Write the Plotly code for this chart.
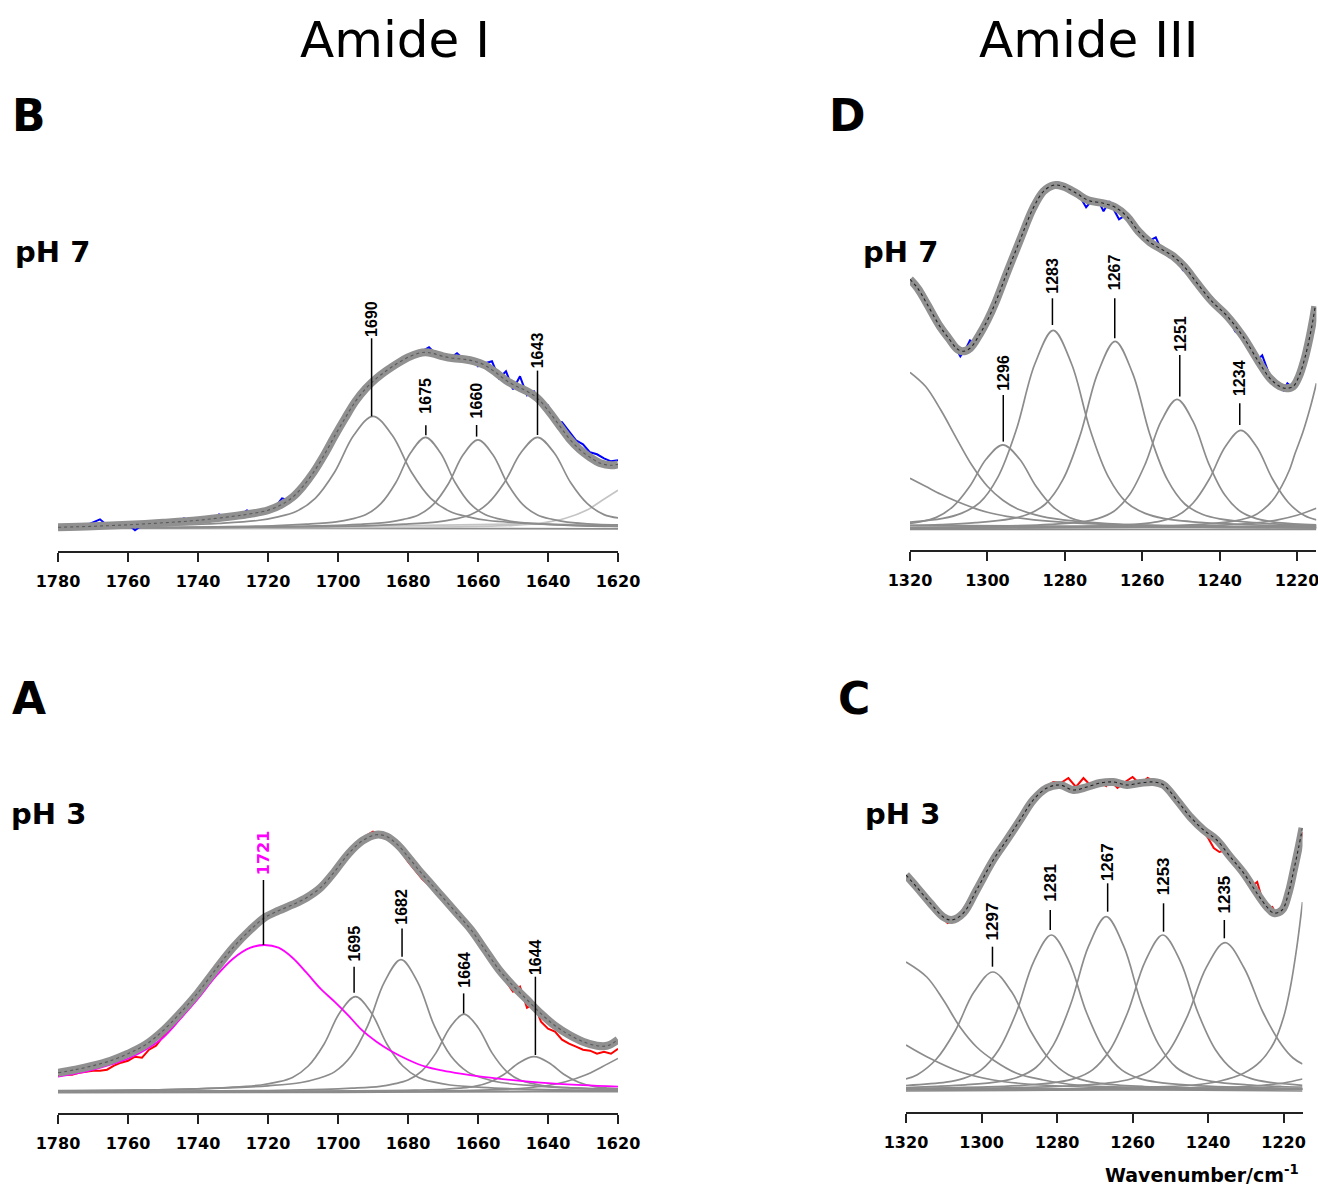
import plotly.graph_objects as go

FIG_W, FIG_H = 1318, 1189

# ============================ DATA ============================
amideI_ticks = [1780, 1760, 1740, 1720, 1700, 1680, 1660, 1640, 1620]
amideIII_ticks = [1320, 1300, 1280, 1260, 1240, 1220]

# ---------------- Panel B : Amide I, pH 7 ----------------
B_meas_x = [1780, 1778, 1776, 1774, 1772, 1770, 1768, 1766, 1764, 1762, 1760, 1758, 1756, 1754, 1752, 1750,
            1748, 1746, 1744, 1742, 1740, 1738, 1736, 1734, 1732, 1730, 1728, 1726, 1724, 1722, 1720, 1718,
            1716, 1714, 1712, 1710, 1708, 1706, 1704, 1702, 1700, 1698, 1696, 1694, 1692, 1690, 1688, 1686,
            1684, 1682, 1680, 1678, 1676, 1674, 1672, 1670, 1668, 1666, 1664, 1662, 1660, 1658, 1656, 1654,
            1652, 1650, 1648, 1646, 1644, 1642, 1640, 1638, 1636, 1634, 1632, 1630, 1628, 1626, 1624, 1622, 1620]
B_meas_y = [0.01, 0.00, 0.02, 0.01, 0.03, 0.06, 0.09, 0.03, 0.02, 0.03, 0.04, -0.02, 0.03, 0.04, 0.05, 0.05,
            0.06, 0.07, 0.10, 0.07, 0.10, 0.09, 0.09, 0.14, 0.11, 0.12, 0.13, 0.18, 0.15, 0.16, 0.18, 0.21,
            0.30, 0.28, 0.34, 0.42, 0.51, 0.62, 0.73, 0.86, 0.98, 1.10, 1.21, 1.31, 1.40, 1.47, 1.54, 1.60,
            1.64, 1.68, 1.72, 1.73, 1.77, 1.81, 1.74, 1.73, 1.70, 1.75, 1.69, 1.70, 1.62, 1.65, 1.67, 1.50,
            1.57, 1.39, 1.52, 1.33, 1.37, 1.24, 1.23, 1.07, 1.06, 0.97, 0.88, 0.84, 0.76, 0.74, 0.70, 0.67, 0.68]
B_fit_x = [1780, 1770, 1760, 1750, 1740, 1730, 1725, 1720, 1716, 1713, 1710, 1707, 1704, 1701, 1698, 1695,
           1692, 1689, 1686, 1683, 1680, 1677, 1675, 1673, 1670, 1667, 1664, 1661, 1658, 1655, 1652, 1649,
           1646, 1643, 1640, 1637, 1634, 1631, 1628, 1625, 1622, 1620]
B_fit_y = [0.01, 0.02, 0.035, 0.055, 0.08, 0.12, 0.145, 0.18, 0.24, 0.31, 0.42, 0.56, 0.73, 0.92, 1.10, 1.27,
           1.40, 1.50, 1.58, 1.65, 1.71, 1.75, 1.76, 1.75, 1.72, 1.70, 1.69, 1.67, 1.63, 1.56, 1.48, 1.42,
           1.37, 1.30, 1.18, 1.04, 0.90, 0.79, 0.71, 0.65, 0.63, 0.64]
B_b1690_x = [1780, 1767, 1745, 1734, 1723, 1717.5, 1712, 1706.5, 1701, 1695.5, 1690, 1684.5, 1679, 1673.5,
             1668, 1662.5, 1657, 1646, 1635, 1620]
B_b1690_y = [0.012, 0.018, 0.034, 0.05, 0.078, 0.112, 0.168, 0.30, 0.56, 0.93, 1.12, 0.93, 0.56, 0.30,
             0.168, 0.112, 0.078, 0.05, 0.034, 0.02]
B_b1675_x = [1780, 1760, 1734.5, 1717.5, 1709, 1700.5, 1696.25, 1692, 1687.75, 1683.5, 1679.25, 1675,
             1670.75, 1666.5, 1662.25, 1658, 1653.75, 1649.5, 1641, 1632.5, 1620]
B_b1675_y = [0.006, 0.007, 0.015, 0.027, 0.041, 0.064, 0.091, 0.137, 0.246, 0.455, 0.755, 0.91,
             0.755, 0.455, 0.246, 0.137, 0.091, 0.064, 0.041, 0.027, 0.018]
B_b1660_x = [1780, 1745, 1719.5, 1702.5, 1694, 1685.5, 1681.25, 1677, 1672.75, 1668.5, 1664.25, 1660,
             1655.75, 1651.5, 1647.25, 1643, 1638.75, 1634.5, 1626, 1620]
B_b1660_y = [0.005, 0.007, 0.014, 0.027, 0.040, 0.062, 0.089, 0.133, 0.239, 0.443, 0.735, 0.885,
             0.735, 0.443, 0.239, 0.133, 0.089, 0.062, 0.040, 0.034]
B_b1643_x = [1780, 1738, 1709.5, 1690.5, 1681, 1671.5, 1666.75, 1662, 1657.25, 1652.5, 1647.75, 1643,
             1638.25, 1633.5, 1628.75, 1624, 1620]
B_b1643_y = [0.004, 0.007, 0.015, 0.027, 0.041, 0.064, 0.091, 0.137, 0.246, 0.455, 0.755, 0.91,
             0.755, 0.455, 0.246, 0.137, 0.104]
B_bbase1_x = [1780, 1700, 1620]
B_bbase1_y = [0.0, 0.0, -0.005]
B_bbase2_x = [1780, 1740, 1700, 1670, 1650, 1635, 1620]
B_bbase2_y = [0.004, 0.008, 0.018, 0.032, 0.042, 0.04, 0.03]
B_bright_x = [1780, 1730, 1690, 1665, 1650, 1641, 1635, 1629, 1624.5, 1620]
B_bright_y = [0.002, 0.004, 0.008, 0.015, 0.03, 0.057, 0.10, 0.18, 0.28, 0.38]
B_peak_text = ["1690", "1675", "1660", "1643"]
B_peak_pos = [1690.4, 1674.9, 1660.4, 1643.0]

# ---------------- Panel A : Amide I, pH 3 ----------------
A_meas_x = [1780, 1778, 1776, 1774, 1772, 1770, 1768, 1766, 1764, 1762, 1760, 1758, 1756, 1754, 1752, 1750,
            1748, 1746, 1744, 1742, 1740, 1736, 1732, 1728, 1724, 1720, 1716, 1712, 1708, 1704, 1700, 1696,
            1692, 1690, 1688, 1684, 1680, 1676, 1672, 1668, 1664, 1660, 1658, 1656, 1654, 1652, 1650, 1648,
            1646, 1644, 1642, 1640, 1638, 1636, 1634, 1632, 1630, 1628, 1626, 1624, 1622, 1620]
A_meas_y = [0.16, 0.17, 0.17, 0.19, 0.20, 0.21, 0.21, 0.22, 0.26, 0.29, 0.31, 0.35, 0.34, 0.42, 0.46, 0.55,
            0.62, 0.70, 0.78, 0.87, 0.95, 1.15, 1.34, 1.53, 1.67, 1.78, 1.84, 1.89, 1.95, 2.09, 2.25, 2.44,
            2.56, 2.60, 2.57, 2.50, 2.30, 2.13, 2.00, 1.84, 1.70, 1.52, 1.41, 1.31, 1.20, 1.10, 1.00, 1.05,
            0.84, 0.88, 0.70, 0.63, 0.60, 0.52, 0.48, 0.45, 0.42, 0.41, 0.38, 0.40, 0.38, 0.43]
A_fit_x = [1780, 1775, 1770, 1765, 1760, 1755, 1750, 1745, 1740, 1735, 1730, 1725, 1721, 1717, 1713, 1709,
           1705, 1701, 1697, 1693, 1689, 1686, 1683, 1680, 1677, 1674, 1670, 1666, 1662, 1658, 1654, 1650,
           1646, 1642, 1638, 1634, 1630, 1626, 1623, 1620]
A_fit_y = [0.19, 0.22, 0.26, 0.31, 0.38, 0.47, 0.61, 0.79, 0.99, 1.22, 1.44, 1.62, 1.74, 1.81, 1.87, 1.94,
           2.04, 2.20, 2.38, 2.51, 2.57, 2.55, 2.47, 2.35, 2.22, 2.10, 1.94, 1.78, 1.62, 1.42, 1.22, 1.06,
           0.92, 0.78, 0.66, 0.57, 0.50, 0.46, 0.46, 0.52]
A_b1721_x = [1780, 1772, 1765, 1760, 1755, 1750, 1745, 1740, 1735, 1730, 1725, 1721, 1717, 1713, 1709, 1705,
             1701, 1697, 1693, 1689, 1685, 1680, 1675, 1670, 1665, 1658, 1650, 1640, 1630, 1620]
A_b1721_y = [0.15, 0.20, 0.27, 0.33, 0.42, 0.54, 0.73, 0.93, 1.15, 1.33, 1.44, 1.467, 1.44, 1.34, 1.19, 1.03,
             0.90, 0.76, 0.61, 0.50, 0.41, 0.32, 0.25, 0.21, 0.18, 0.145, 0.115, 0.085, 0.065, 0.05]
A_b1695_x = [1780, 1758, 1740, 1731, 1722, 1717.5, 1713, 1708.5, 1704, 1699.5, 1695, 1690.5, 1686, 1681.5,
             1677, 1672.5, 1668, 1659, 1650, 1632, 1620]
A_b1695_y = [0.009, 0.015, 0.029, 0.043, 0.067, 0.095, 0.143, 0.257, 0.475, 0.79, 0.95, 0.79, 0.475, 0.257,
             0.143, 0.095, 0.067, 0.043, 0.029, 0.015, 0.012]
A_b1682_x = [1780, 1748.5, 1729.5, 1720, 1710.5, 1705.75, 1701, 1696.25, 1691.5, 1686.75, 1682, 1677.25,
             1672.5, 1667.75, 1663, 1658.25, 1653.5, 1644, 1634.5, 1620]
A_b1682_y = [0.010, 0.021, 0.040, 0.059, 0.092, 0.132, 0.198, 0.356, 0.66, 1.096, 1.32, 1.096,
             0.66, 0.356, 0.198, 0.132, 0.092, 0.059, 0.040, 0.024]
A_b1664_x = [1780, 1744, 1720, 1704, 1696, 1688, 1684, 1680, 1676, 1672, 1668, 1664, 1660, 1656, 1652, 1648,
             1644, 1640, 1632, 1624, 1620]
A_b1664_y = [0.005, 0.006, 0.012, 0.023, 0.035, 0.054, 0.078, 0.116, 0.209, 0.388, 0.643, 0.775, 0.643,
             0.388, 0.209, 0.116, 0.078, 0.054, 0.035, 0.023, 0.02]
A_b1644_x = [1780, 1729, 1703.5, 1686.5, 1678, 1669.5, 1665.25, 1661, 1656.75, 1652.5, 1648.25, 1644,
             1639.75, 1635.5, 1631.25, 1627, 1622.75, 1620]
A_b1644_y = [0.002, 0.003, 0.006, 0.0105, 0.016, 0.0245, 0.035, 0.0525, 0.0945, 0.175, 0.29, 0.35,
             0.29, 0.175, 0.0945, 0.0525, 0.035, 0.028]
A_bright_x = [1780, 1720, 1677, 1653, 1641, 1635, 1629.3, 1624.5, 1620]
A_bright_y = [0.001, 0.002, 0.005, 0.023, 0.057, 0.10, 0.167, 0.25, 0.333]
A_bbase1_x = [1780, 1700, 1650, 1620]
A_bbase1_y = [-0.01, -0.006, 0.004, 0.015]
A_bbase2_x = [1780, 1620]
A_bbase2_y = [0.006, 0.0]
A_peak_text = ["1721", "1695", "1682", "1664", "1644"]
A_peak_pos = [1721.3, 1695.4, 1681.7, 1664.1, 1643.6]

# ---------------- Panel D : Amide III, pH 7 ----------------
D_meas_x = [1320, 1318, 1316, 1314, 1312, 1310, 1308, 1307, 1305.5, 1304.5, 1303, 1301, 1298, 1295, 1292,
            1289, 1286, 1284, 1282, 1280, 1278, 1276, 1274.5, 1273, 1271, 1270, 1268.5, 1267, 1266, 1264,
            1262, 1260, 1258, 1256.5, 1255, 1253, 1251, 1249.5, 1248, 1246, 1244, 1242, 1240, 1238, 1236,
            1234, 1232, 1230, 1229, 1227, 1225, 1223.5, 1222.5, 1221, 1220, 1219, 1218, 1217, 1216, 1215.3]
D_meas_y = [2.47, 2.37, 2.26, 2.14, 2.03, 1.88, 1.79, 1.72, 1.80, 1.88, 1.85, 1.99, 2.24, 2.56, 2.86,
            3.15, 3.34, 3.42, 3.46, 3.44, 3.37, 3.31, 3.21, 3.28, 3.25, 3.17, 3.27, 3.17, 3.09, 3.14,
            3.01, 2.95, 2.88, 2.91, 2.78, 2.71, 2.72, 2.58, 2.56, 2.48, 2.35, 2.31, 2.19, 2.14, 1.97,
            1.91, 1.80, 1.69, 1.73, 1.52, 1.44, 1.38, 1.45, 1.40, 1.45, 1.58, 1.72, 1.92, 2.08, 2.20]
D_fit_x = [1320, 1318, 1315.7, 1312.3, 1310, 1308, 1306.5, 1304.5, 1302, 1300, 1298, 1295, 1291.6, 1288.2,
           1285.5, 1283, 1280.5, 1277, 1274, 1270, 1267, 1264, 1261, 1258, 1255, 1252, 1249, 1246, 1242,
           1238, 1234, 1230, 1227, 1224.5, 1222.8, 1221, 1219.5, 1218, 1216.8, 1215.9, 1215.3]
D_fit_y = [2.49, 2.40, 2.25, 2.02, 1.90, 1.80, 1.77, 1.80, 1.94, 2.08, 2.25, 2.55, 2.88, 3.20,
           3.37, 3.43, 3.42, 3.35, 3.28, 3.25, 3.21, 3.12, 2.97, 2.86, 2.79, 2.72, 2.61, 2.46, 2.27,
           2.12, 1.92, 1.67, 1.50, 1.42, 1.40, 1.42, 1.52, 1.70, 1.90, 2.08, 2.22]
D_b1296_x = [1320, 1317.5, 1313.2, 1308.9, 1304.6, 1300.3, 1296, 1291.7, 1287.4, 1283.1, 1278.8, 1274.5,
             1270.2, 1261.6, 1253, 1235.8, 1215]
D_b1296_y = [0.05, 0.063, 0.109, 0.217, 0.418, 0.693, 0.835, 0.693, 0.418, 0.217, 0.109, 0.063,
             0.042, 0.025, 0.017, 0.008, 0.005]
D_b1283_x = [1320, 1311.5, 1306.75, 1302, 1297.25, 1292.5, 1287.75, 1283, 1278.25, 1273.5, 1268.75, 1264,
             1259.25, 1254.5, 1245, 1235.5, 1215]
D_b1283_y = [0.062, 0.099, 0.149, 0.257, 0.515, 0.99, 1.643, 1.98, 1.643, 0.99, 0.515, 0.257,
             0.149, 0.099, 0.059, 0.040, 0.019]
D_b1267_x = [1320, 1312, 1303, 1294, 1289.5, 1285, 1280.5, 1276, 1271.5, 1267, 1262.5, 1258, 1253.5, 1249,
             1244.5, 1240, 1231, 1222, 1215]
D_b1267_y = [0.028, 0.037, 0.056, 0.094, 0.140, 0.243, 0.486, 0.935, 1.552, 1.87, 1.552, 0.935, 0.486,
             0.243, 0.140, 0.094, 0.056, 0.037, 0.03]
D_b1251_x = [1320, 1308.4, 1292, 1283.8, 1275.6, 1271.5, 1267.4, 1263.3, 1259.2, 1255.1, 1251, 1246.9,
             1242.8, 1238.7, 1234.6, 1230.5, 1226.4, 1218.2, 1215]
D_b1251_y = [0.009, 0.013, 0.026, 0.039, 0.065, 0.097, 0.168, 0.335, 0.645, 1.071, 1.29, 1.071,
             0.645, 0.335, 0.168, 0.097, 0.065, 0.039, 0.035]
D_b1234_x = [1320, 1291.9, 1275.5, 1267.3, 1259.1, 1255, 1250.9, 1246.8, 1242.7, 1238.6, 1234.5, 1230.4,
             1226.3, 1222.2, 1218.1, 1215]
D_b1234_y = [0.005, 0.010, 0.020, 0.029, 0.049, 0.074, 0.127, 0.255, 0.49, 0.813, 0.98, 0.813,
             0.49, 0.255, 0.127, 0.085]
D_bleft1_x = [1320, 1316, 1312, 1308, 1304, 1300, 1296, 1292, 1286, 1278, 1265, 1245, 1215]
D_bleft1_y = [1.56, 1.42, 1.18, 0.90, 0.63, 0.42, 0.28, 0.19, 0.12, 0.075, 0.04, 0.02, 0.01]
D_bleft2_x = [1320, 1316, 1312, 1308, 1304, 1300, 1295, 1288, 1278, 1265, 1245, 1215]
D_bleft2_y = [0.50, 0.42, 0.34, 0.27, 0.21, 0.16, 0.12, 0.085, 0.055, 0.035, 0.02, 0.01]
D_bright1_x = [1320, 1290, 1260, 1245, 1236, 1231.5, 1229, 1226.3, 1224, 1222, 1220.5, 1218.5, 1216.5, 1215]
D_bright1_y = [0.005, 0.01, 0.02, 0.04, 0.075, 0.12, 0.18, 0.28, 0.42, 0.58, 0.75, 0.96, 1.22, 1.45]
D_bright2_x = [1320, 1270, 1245, 1232, 1225, 1220, 1215]
D_bright2_y = [0.005, 0.012, 0.025, 0.05, 0.085, 0.13, 0.2]
D_bbase1_x = [1320, 1215]
D_bbase1_y = [0.03, 0.005]
D_bbase2_x = [1320, 1215]
D_bbase2_y = [0.0, 0.02]
D_bbase3_x = [1320, 1215]
D_bbase3_y = [-0.012, -0.01]
D_peak_text = ["1296", "1283", "1267", "1251", "1234"]
D_peak_pos = [1295.9, 1283.2, 1267.1, 1250.3, 1234.8]

# ---------------- Panel C : Amide III, pH 3 ----------------
C_meas_x = [1320, 1318, 1316, 1314, 1312, 1310, 1309, 1307, 1305, 1303, 1300, 1297, 1294, 1291, 1288, 1285,
            1283, 1281, 1279, 1277, 1275, 1273, 1271, 1269, 1267, 1266, 1264, 1262, 1260, 1258, 1256, 1254,
            1252, 1250, 1248, 1246, 1244, 1242, 1240, 1238.5, 1237, 1235, 1233, 1231, 1229, 1228, 1227,
            1226, 1225, 1224, 1223, 1222, 1221, 1220, 1219, 1218, 1217, 1216, 1215]
C_meas_y = [2.12, 2.05, 1.98, 1.88, 1.80, 1.72, 1.67, 1.70, 1.80, 1.92, 2.08, 2.28, 2.47, 2.63, 2.83, 2.96,
            3.03, 3.08, 3.07, 3.12, 3.03, 3.12, 3.04, 3.09, 3.04, 3.10, 3.02, 3.08, 3.13, 3.06, 3.12, 3.08,
            3.04, 2.97, 2.88, 2.78, 2.72, 2.62, 2.52, 2.42, 2.38, 2.40, 2.30, 2.20, 2.07, 2.05, 2.08,
            1.95, 1.85, 1.82, 1.83, 1.76, 1.78, 1.82, 1.93, 2.05, 2.18, 2.38, 2.58]
C_fit_x = [1320, 1317.2, 1313.6, 1310.1, 1307.9, 1304.8, 1301.3, 1296.9, 1293.3, 1289.8, 1286.3, 1282.7,
           1279.2, 1275.7, 1272.1, 1268.6, 1265.1, 1261.5, 1258, 1254.5, 1251.8, 1248.3, 1244.7, 1241.2,
           1237.7, 1234.1, 1230.6, 1227.1, 1224.4, 1222.6, 1220.4, 1218.7, 1217.3, 1216, 1215]
C_fit_y = [2.15, 2.03, 1.87, 1.73, 1.70, 1.77, 2.0, 2.30, 2.50, 2.70, 2.90, 3.02,
           3.05, 3.0, 3.03, 3.07, 3.08, 3.05, 3.07, 3.08, 3.05, 2.90, 2.73, 2.60,
           2.50, 2.33, 2.17, 1.97, 1.83, 1.77, 1.80, 1.97, 2.20, 2.43, 2.62]
C_b1297_x = [1320, 1317, 1312, 1307, 1302, 1297, 1292, 1287, 1282, 1277, 1272, 1267, 1257, 1247, 1227, 1215]
C_b1297_y = [0.11, 0.153, 0.307, 0.59, 0.979, 1.18, 0.979, 0.59, 0.307, 0.153, 0.089, 0.059, 0.035, 0.024,
             0.012, 0.008]
C_b1281_x = [1320, 1309.4, 1304.75, 1300.1, 1295.45, 1290.8, 1286.15, 1281.5, 1276.85, 1272.2, 1267.55,
             1262.9, 1258.25, 1253.6, 1244.3, 1235, 1216.4, 1215]
C_b1281_y = [0.045, 0.078, 0.116, 0.202, 0.403, 0.775, 1.287, 1.55, 1.287, 0.775, 0.403,
             0.202, 0.116, 0.078, 0.047, 0.031, 0.016, 0.015]
C_b1267_x = [1320, 1313.5, 1304.2, 1294.9, 1290.25, 1285.6, 1280.95, 1276.3, 1271.65, 1267, 1262.35,
             1257.7, 1253.05, 1248.4, 1243.75, 1239.1, 1229.8, 1220.5, 1215]
C_b1267_y = [0.024, 0.035, 0.052, 0.087, 0.130, 0.225, 0.451, 0.867, 1.438, 1.733, 1.438,
             0.867, 0.451, 0.225, 0.130, 0.087, 0.052, 0.035, 0.03]
C_b1253_x = [1320, 1298.5, 1289.2, 1279.9, 1275.25, 1270.6, 1265.95, 1261.3, 1256.65, 1252, 1247.35,
             1242.7, 1238.05, 1233.4, 1228.75, 1224.1, 1215]
C_b1253_y = [0.015, 0.031, 0.047, 0.078, 0.116, 0.202, 0.403, 0.775, 1.287, 1.55, 1.287,
             0.775, 0.403, 0.202, 0.116, 0.078, 0.047]
C_b1235_x = [1320, 1305.5, 1285.5, 1275.5, 1265.5, 1260.5, 1255.5, 1250.5, 1245.5, 1240.5, 1235.5, 1230.5,
             1225.5, 1220.5, 1217.5, 1215]
C_b1235_y = [0.012, 0.015, 0.029, 0.044, 0.074, 0.11, 0.191, 0.383, 0.737, 1.223, 1.473, 1.223,
             0.78, 0.45, 0.32, 0.26]
C_bleft1_x = [1320, 1314.5, 1310.1, 1305.7, 1301.3, 1296.9, 1290.7, 1283.6, 1274.8, 1250, 1215]
C_bleft1_y = [1.28, 1.13, 0.90, 0.63, 0.43, 0.30, 0.167, 0.10, 0.05, 0.02, 0.008]
C_bleft2_x = [1320, 1314.5, 1305.7, 1296.9, 1288, 1270, 1245, 1215]
C_bleft2_y = [0.45, 0.333, 0.183, 0.10, 0.06, 0.027, 0.013, 0.008]
C_bright1_x = [1320, 1265, 1243.9, 1236.8, 1230.6, 1226.2, 1222.6, 1220, 1218.2, 1216.5, 1215]
C_bright1_y = [0.005, 0.02, 0.05, 0.09, 0.167, 0.283, 0.47, 0.73, 1.03, 1.43, 1.88]
C_bright2_x = [1320, 1280, 1250, 1235, 1226, 1220, 1215]
C_bright2_y = [0.003, 0.006, 0.013, 0.025, 0.045, 0.07, 0.11]
C_bbase1_x = [1320, 1215]
C_bbase1_y = [0.02, -0.01]
C_bbase2_x = [1320, 1215]
C_bbase2_y = [-0.01, 0.015]
C_bbase3_x = [1320, 1215]
C_bbase3_y = [0.005, 0.005]
C_peak_text = ["1297", "1281", "1267", "1253", "1235"]
C_peak_pos = [1297.1, 1281.8, 1266.6, 1251.8, 1235.7]

# ============================ LAYOUT HELPERS ============================
GRAY = "#8c8c8c"
LIGHT = "#c4c4c4"
FIT = "#909090"
FONT = "DejaVu Sans"
PEAKFONT = "Liberation Sans, Arial"

# label geometry (line bottom, line top, text centre) in the panel's y units
B_lbl = dict(lo=[1.12, 0.93, 0.917, 0.933], hi=[1.90, 1.03, 1.033, 1.577], ty=[2.09, 1.325, 1.275, 1.775],
             size=[16, 16, 16, 16], color=["black"] * 4, fam=[PEAKFONT] * 4)
A_lbl = dict(lo=[1.467, 0.99, 1.35, 0.783, 0.367], hi=[2.117, 1.25, 1.633, 0.983, 1.15],
             ty=[2.39, 1.483, 1.85, 1.217, 1.35], size=[16, 16, 16, 16, 16],
             color=["#ff00ff", "black", "black", "black", "black"],
             fam=[FONT, PEAKFONT, PEAKFONT, PEAKFONT, PEAKFONT])
D_lbl = dict(lo=[0.867, 2.033, 1.90, 1.317, 1.033], hi=[1.333, 2.30, 2.30, 1.733, 1.25],
             ty=[1.558, 2.53, 2.558, 1.942, 1.50], size=[16] * 5, color=["black"] * 5, fam=[PEAKFONT] * 5)
C_lbl = dict(lo=[1.233, 1.60, 1.783, 1.583, 1.517], hi=[1.433, 1.80, 2.067, 1.867, 1.70],
             ty=[1.69, 2.075, 2.275, 2.133, 1.958], size=[17] * 5, color=["black"] * 5, fam=[PEAKFONT] * 5)

panels = [
    dict(ax="x", ay="y", x0=58, x1=618, xr=[1780, 1620], base=528.3, axis=551, top=150, ticks=amideI_ticks,
         meas=(B_meas_x, B_meas_y), mcol="#0000ff", fit=(B_fit_x, B_fit_y), dotcol="#5a5a5a",
         bands=[(B_bbase1_x, B_bbase1_y, GRAY), (B_bbase2_x, B_bbase2_y, LIGHT), (B_bright_x, B_bright_y, LIGHT),
                (B_b1690_x, B_b1690_y, GRAY), (B_b1675_x, B_b1675_y, GRAY), (B_b1660_x, B_b1660_y, GRAY),
                (B_b1643_x, B_b1643_y, GRAY)],
         top_bands=[], labels=(B_peak_text, B_peak_pos, B_lbl)),
    dict(ax="x2", ay="y2", x0=58, x1=618, xr=[1780, 1620], base=1091.7, axis=1113, top=700, ticks=amideI_ticks,
         meas=(A_meas_x, A_meas_y), mcol="#ff0000", fit=(A_fit_x, A_fit_y), dotcol="#5a5a5a",
         bands=[(A_bbase1_x, A_bbase1_y, GRAY), (A_bbase2_x, A_bbase2_y, GRAY), (A_bright_x, A_bright_y, GRAY),
                (A_b1695_x, A_b1695_y, GRAY), (A_b1682_x, A_b1682_y, GRAY), (A_b1664_x, A_b1664_y, GRAY),
                (A_b1644_x, A_b1644_y, GRAY)],
         top_bands=[(A_b1721_x, A_b1721_y, "#ff00ff")], labels=(A_peak_text, A_peak_pos, A_lbl)),
    dict(ax="x3", ay="y3", x0=910, x1=1316.4, xr=[1320, 1215], base=528.3, axis=550, top=150, ticks=amideIII_ticks,
         meas=(D_meas_x, D_meas_y), mcol="#0000ff", fit=(D_fit_x, D_fit_y), dotcol="#222222",
         bands=[(D_bbase1_x, D_bbase1_y, GRAY), (D_bbase2_x, D_bbase2_y, GRAY), (D_bbase3_x, D_bbase3_y, GRAY),
                (D_bleft1_x, D_bleft1_y, GRAY), (D_bleft2_x, D_bleft2_y, GRAY),
                (D_bright1_x, D_bright1_y, GRAY), (D_bright2_x, D_bright2_y, GRAY),
                (D_b1296_x, D_b1296_y, GRAY), (D_b1283_x, D_b1283_y, GRAY), (D_b1267_x, D_b1267_y, GRAY),
                (D_b1251_x, D_b1251_y, GRAY), (D_b1234_x, D_b1234_y, GRAY)],
         top_bands=[], labels=(D_peak_text, D_peak_pos, D_lbl)),
    dict(ax="x4", ay="y4", x0=906, x1=1302.5, xr=[1320, 1215], base=1090, axis=1112, top=700, ticks=amideIII_ticks,
         meas=(C_meas_x, C_meas_y), mcol="#ff0000", fit=(C_fit_x, C_fit_y), dotcol="#222222",
         bands=[(C_bbase1_x, C_bbase1_y, GRAY), (C_bbase2_x, C_bbase2_y, GRAY), (C_bbase3_x, C_bbase3_y, GRAY),
                (C_bleft1_x, C_bleft1_y, GRAY), (C_bleft2_x, C_bleft2_y, GRAY),
                (C_bright1_x, C_bright1_y, GRAY), (C_bright2_x, C_bright2_y, GRAY),
                (C_b1297_x, C_b1297_y, GRAY), (C_b1281_x, C_b1281_y, GRAY), (C_b1267_x, C_b1267_y, GRAY),
                (C_b1253_x, C_b1253_y, GRAY), (C_b1235_x, C_b1235_y, GRAY)],
         top_bands=[], labels=(C_peak_text, C_peak_pos, C_lbl)),
]

fig = go.Figure()
shapes = []
annotations = []
layout_axes = {}

for p in panels:
    ax, ay = p["ax"], p["ay"]
    for bx, by, col in p["bands"]:
        fig.add_trace(go.Scatter(x=bx, y=by, mode="lines", xaxis=ax, yaxis=ay, hoverinfo="skip",
                                 line=dict(color=col, width=1.7, shape="spline", smoothing=1.0)))
    mx, my = p["meas"]
    fig.add_trace(go.Scatter(x=mx, y=my, mode="lines", xaxis=ax, yaxis=ay, hoverinfo="skip",
                             line=dict(color=p["mcol"], width=2)))
    for bx, by, col in p["top_bands"]:
        fig.add_trace(go.Scatter(x=bx, y=by, mode="lines", xaxis=ax, yaxis=ay, hoverinfo="skip",
                                 line=dict(color=col, width=1.8, shape="spline", smoothing=1.0)))
    fx, fy = p["fit"]
    fig.add_trace(go.Scatter(x=fx, y=fy, mode="lines", xaxis=ax, yaxis=ay, hoverinfo="skip",
                             line=dict(color=FIT, width=8, shape="spline", smoothing=1.0)))
    fig.add_trace(go.Scatter(x=fx, y=fy, mode="lines", xaxis=ax, yaxis=ay, hoverinfo="skip",
                             line=dict(color=p["dotcol"], width=1.1, dash="dot", shape="spline", smoothing=1.0)))
    # peak labels
    texts, pos, lbl = p["labels"]
    for i, t in enumerate(texts):
        shapes.append(dict(type="line", xref=ax, yref=ay, x0=pos[i], x1=pos[i], y0=lbl["lo"][i], y1=lbl["hi"][i],
                           line=dict(color="black", width=1.5)))
        annotations.append(dict(xref=ax, yref=ay, x=pos[i], y=lbl["ty"][i], text=t, showarrow=False,
                                textangle=-90, xanchor="center", yanchor="middle",
                                font=dict(family=lbl["fam"][i], size=lbl["size"][i], color=lbl["color"][i],
                                          weight="bold")))
    # axes
    ydom = [1 - p["axis"] / FIG_H, 1 - p["top"] / FIG_H]
    yr = [-(p["axis"] - p["base"]) / 100.0, (p["base"] - p["top"]) / 100.0]
    xkey = "xaxis" + ax[1:]
    ykey = "yaxis" + ay[1:]
    layout_axes[xkey] = dict(domain=[p["x0"] / FIG_W, p["x1"] / FIG_W], range=p["xr"], anchor=ay,
                             tickvals=p["ticks"], ticktext=[str(t) for t in p["ticks"]],
                             showline=True, linecolor="#222222", linewidth=2, ticks="outside", ticklen=9,
                             tickwidth=2, tickcolor="#222222", showgrid=False, zeroline=False,
                             automargin=False, ticklabelstandoff=6, ticklabeloverflow="allow",
                             tickfont=dict(family=FONT, size=16, color="black", weight="bold"))
    layout_axes[ykey] = dict(domain=ydom, range=yr, anchor=ax, visible=False, showgrid=False, zeroline=False,
                             automargin=False)


def txt(text, xpx, ypx, size, bold=True, xanchor="center", yanchor="middle"):
    annotations.append(dict(xref="paper", yref="paper", x=xpx / FIG_W, y=1 - ypx / FIG_H, text=text,
                            showarrow=False, xanchor=xanchor, yanchor=yanchor,
                            font=dict(family=FONT, size=size, color="black", weight="bold" if bold else "normal")))


txt("Amide I", 395, 40, 50, bold=False)
txt("Amide III", 1088, 40, 50, bold=False)
txt("B", 29, 116, 44)
txt("D", 848, 116, 44)
txt("A", 29, 698, 44)
txt("C", 854, 698, 44)
txt("pH 7", 13, 252, 29, xanchor="left")
txt("pH 7", 861, 252, 29, xanchor="left")
txt("pH 3", 9, 814, 29, xanchor="left")
txt("pH 3", 863, 814, 29, xanchor="left")
txt("Wavenumber/cm<sup>-1</sup>", 1202, 1188, 19, yanchor="bottom")

fig.update_layout(template="none", width=FIG_W, height=FIG_H,
                  margin=dict(l=0, r=0, t=0, b=0, pad=0, autoexpand=False),
                  paper_bgcolor="white", plot_bgcolor="white", showlegend=False,
                  shapes=shapes, annotations=annotations, **layout_axes)

fig.write_html("out.html", config={"displayModeBar": False, "responsive": False},
               post_script="document.body.style.margin='0px';")
